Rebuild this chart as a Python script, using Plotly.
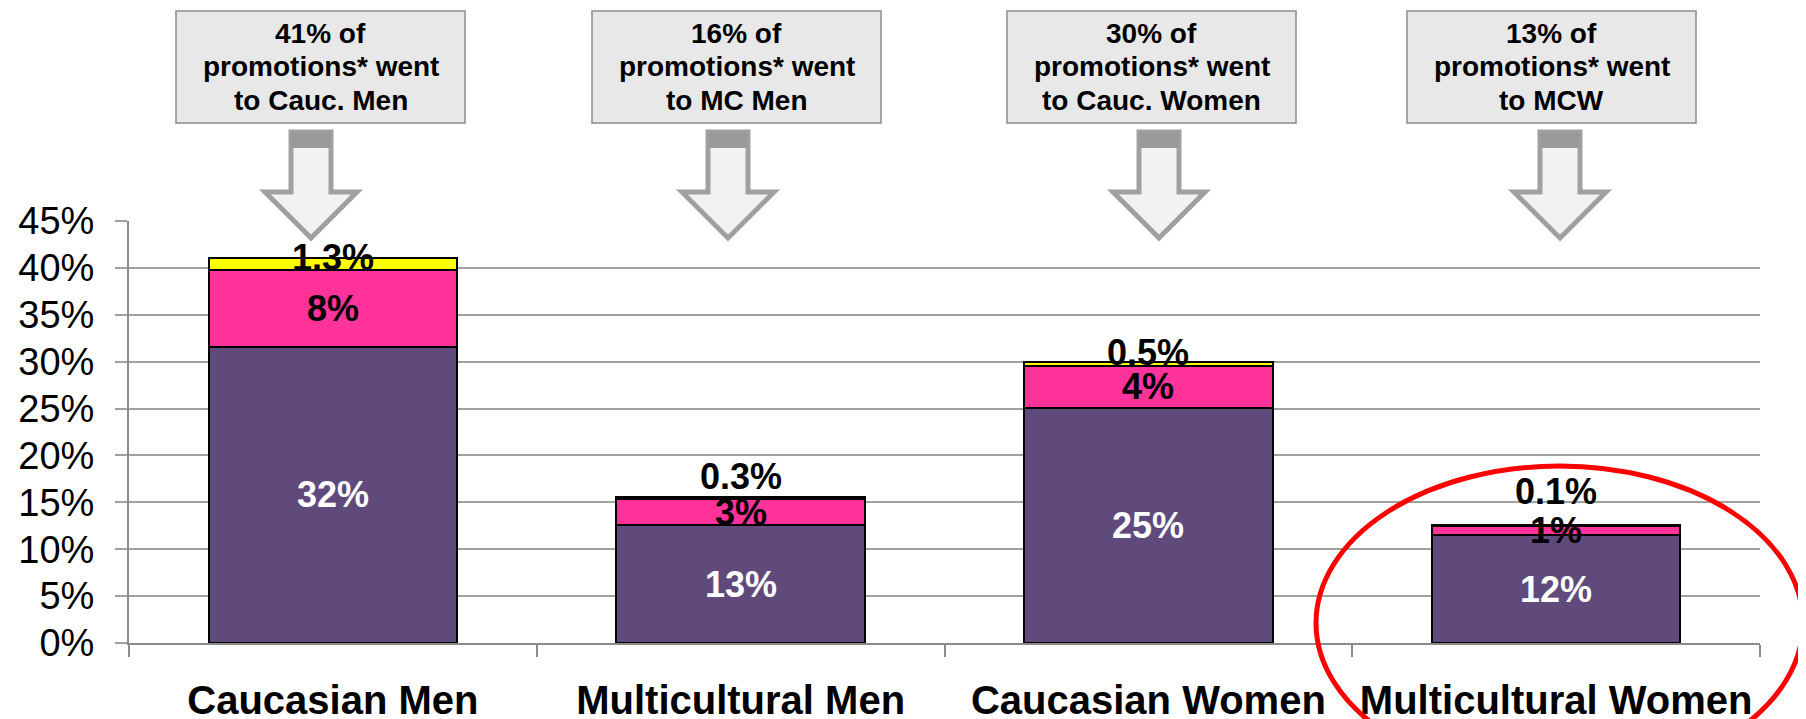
import plotly.graph_objects as go

# data (percent of promotions)
categories = ["Caucasian Men", "Multicultural Men", "Caucasian Women", "Multicultural Women"]
purple_vals = [31.6, 12.55, 25.1, 11.5]
pink_vals = [8.2, 2.8, 4.4, 0.95]
yellow_vals = [1.3, 0.25, 0.5, 0.1]
purple_labels = ["32%", "13%", "25%", "12%"]
pink_labels = ["8%", "3%", "4%", "1%"]
yellow_labels = ["1.3%", "0.3%", "0.5%", "0.1%"]
callout_share = ["41%", "16%", "30%", "13%"]
callout_group = ["Cauc. Men", "MC Men", "Cauc. Women", "MCW"]
y_ticks = [0, 5, 10, 15, 20, 25, 30, 35, 40, 45]

# the page body adds an 8px margin, so the figure is laid out in page pixels minus OFF
OFF = 8
W, H = 1806 - OFF, 719 - OFF
L, R, T, B = 129 - OFF, 46, 221 - OFF, 76
FONT = "Arial, Liberation Sans, sans-serif"
PURPLE, PINK, YELLOW = "#604a7b", "#ff3399", "#ffff00"


def px(x):
    return (x - OFF - L) / (W - L - R)


def py(y):
    return (H - B - (y - OFF)) / (H - T - B)


fig = go.Figure()
for vals, col in [(purple_vals, PURPLE), (pink_vals, PINK), (yellow_vals, YELLOW)]:
    fig.add_trace(go.Bar(x=categories, y=vals, marker=dict(color=col, line=dict(color="black", width=2)),
                         showlegend=False, hoverinfo="skip"))

annotations = []
# segment labels, placed from the stacked values
yellow_shift = [6, 21, 12, 34]
for i, c in enumerate(categories):
    b1 = purple_vals[i]
    b2 = b1 + pink_vals[i]
    annotations.append(dict(x=c, y=b1 / 2, text=purple_labels[i], showarrow=False,
                            font=dict(family=FONT, size=36, color="white", weight="bold")))
    annotations.append(dict(x=c, y=b1 + pink_vals[i] / 2, text=pink_labels[i], showarrow=False,
                            font=dict(family=FONT, size=36, color="black", weight="bold")))
    annotations.append(dict(x=c, y=b2 + yellow_vals[i] / 2, yshift=yellow_shift[i], text=yellow_labels[i],
                            showarrow=False, font=dict(family=FONT, size=36, color="black", weight="bold")))

# callout boxes and block arrows (page pixel layout)
box_x = [176, 592, 1007, 1407]
box_w = 289
line_y = [34, 67, 100]
arrow_tip = [311, 728, 1159, 1560]
shapes = []
for i in range(4):
    x0, x1 = box_x[i], box_x[i] + box_w
    shapes.append(dict(type="rect", xref="paper", yref="paper", x0=px(x0), x1=px(x1), y0=py(123), y1=py(11),
                       fillcolor="#e8e8e8", line=dict(color="#8c8c8c", width=1.5)))
    lines = [f"{callout_share[i]} of", "promotions* went", f"to {callout_group[i]}"]
    for ln, yy in zip(lines, line_y):
        annotations.append(dict(xref="paper", yref="paper", x=px((x0 + x1) / 2), y=py(yy),
                                xanchor="center", yanchor="middle", text=ln, showarrow=False,
                                font=dict(family=FONT, size=28, color="black", weight="bold")))
    t = arrow_tip[i]
    pts = [(t - 20, 132), (t + 20, 132), (t + 20, 192), (t + 46, 192), (t, 238), (t - 46, 192), (t - 20, 192)]
    path = "M " + " L ".join(f"{px(a):.5f},{py(b):.5f}" for a, b in pts) + " Z"
    shapes.append(dict(type="path", xref="paper", yref="paper", path=path,
                       fillcolor="#f2f2f2", line=dict(color="#a0a0a0", width=5)))
    shapes.append(dict(type="rect", xref="paper", yref="paper", x0=px(t - 20), x1=px(t + 20),
                       y0=py(148), y1=py(132), fillcolor="#9a9a9a", line=dict(width=0)))

# red ellipse around the last group
shapes.append(dict(type="circle", xref="paper", yref="paper", x0=px(1316), x1=px(1803),
                   y0=py(780), y1=py(466), line=dict(color="#ff0000", width=5), layer="above"))

fig.update_layout(
    barmode="stack", bargap=0.39,
    width=W, height=H, margin=dict(l=L, r=R, t=T, b=B, autoexpand=False),
    plot_bgcolor="white", paper_bgcolor="white",
    font=dict(family=FONT, color="black"),
    shapes=shapes, annotations=annotations,
)
fig.update_yaxes(range=[0, 45], tickvals=y_ticks, ticktext=[f"{v}%" for v in y_ticks],
                 showgrid=True, gridcolor="#a0a0a0", gridwidth=2, automargin=False,
                 showline=True, linecolor="#8c8c8c", linewidth=2,
                 ticks="outside", ticklen=12, tickwidth=2, tickcolor="#a0a0a0",
                 ticklabelstandoff=13, tickfont=dict(size=38, family=FONT, color="black"), zeroline=False)
fig.update_xaxes(showline=True, linecolor="#8c8c8c", linewidth=2, automargin=False,
                 ticks="outside", tickson="boundaries", ticklen=12, tickwidth=2, tickcolor="#8c8c8c",
                 ticklabelstandoff=21, tickfont=dict(size=40, family=FONT, color="black", weight="bold"))

fig.write_html("out.html")
